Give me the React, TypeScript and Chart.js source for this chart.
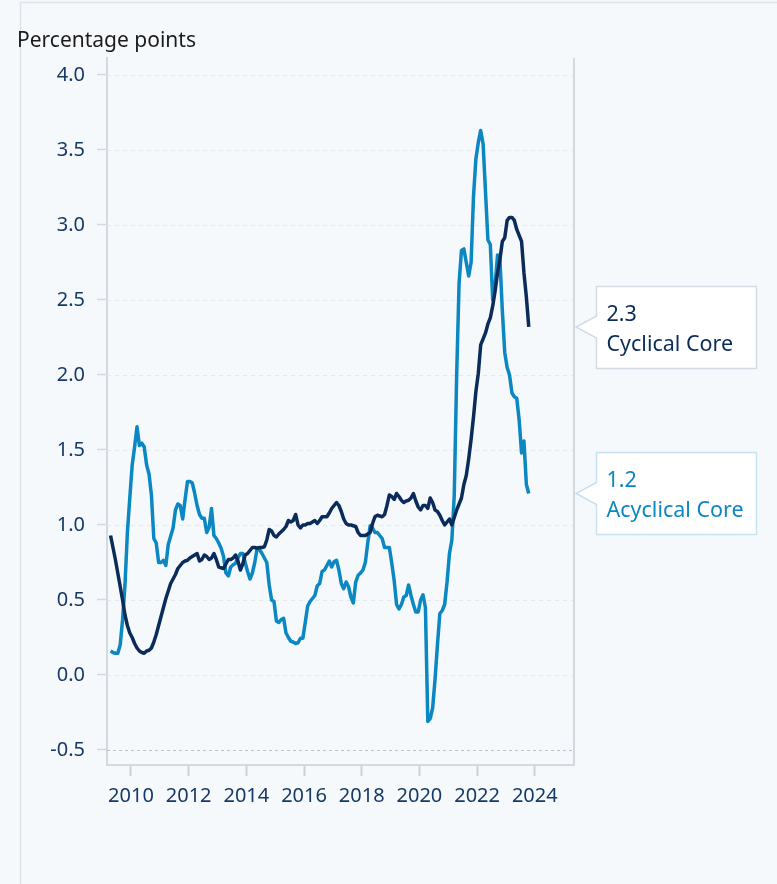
import React, { useEffect, useRef } from "react";
import { Chart, registerables } from "chart.js";

Chart.register(...registerables);

// Monthly series, April 2009 .. October 2023 (percentage points)
const START_YEAR = 2009;
const START_MONTH = 4;

const cyclicalCore: number[] = [
  0.93, 0.85, 0.77, 0.68, 0.59, 0.50, 0.40, 0.33, 0.28, 0.25,
  0.21, 0.18, 0.16, 0.15, 0.145, 0.16, 0.165, 0.18, 0.22, 0.27,
  0.33, 0.39, 0.45, 0.51, 0.56, 0.61, 0.64, 0.67, 0.71, 0.73,
  0.75, 0.76, 0.765, 0.78, 0.79, 0.80, 0.81, 0.76, 0.77, 0.80,
  0.79, 0.77, 0.78, 0.81, 0.77, 0.72, 0.715, 0.71, 0.74, 0.77,
  0.77, 0.78, 0.80, 0.76, 0.70, 0.74, 0.80, 0.81, 0.83, 0.85,
  0.85, 0.845, 0.85, 0.85, 0.855, 0.90, 0.97, 0.96, 0.93, 0.92,
  0.94, 0.955, 0.97, 0.99, 1.03, 1.02, 1.03, 1.07, 1.00, 0.98,
  1.00, 1.00, 1.01, 1.01, 1.02, 1.03, 1.01, 1.03, 1.055, 1.055,
  1.055, 1.08, 1.11, 1.13, 1.15, 1.13, 1.09, 1.04, 1.01, 1.00,
  1.00, 0.995, 0.99, 0.95, 0.93, 0.93, 0.93, 0.94, 0.95, 1.01,
  1.055, 1.065, 1.06, 1.055, 1.07, 1.13, 1.20, 1.19, 1.17, 1.21,
  1.19, 1.165, 1.15, 1.16, 1.165, 1.18, 1.21, 1.16, 1.12, 1.10,
  1.13, 1.13, 1.11, 1.18, 1.15, 1.10, 1.09, 1.065, 1.03, 1.00,
  1.02, 1.04, 1.00, 1.05, 1.10, 1.14, 1.18, 1.27, 1.33, 1.44,
  1.57, 1.72, 1.89, 2.01, 2.20, 2.24, 2.28, 2.34, 2.38, 2.46,
  2.56, 2.68, 2.77, 2.89, 2.915, 3.03, 3.05, 3.05, 3.03, 2.97,
  2.93, 2.89, 2.68, 2.52, 2.32,
];

const acyclicalCore: number[] = [
  0.16, 0.15, 0.145, 0.145, 0.20, 0.37, 0.60, 0.95, 1.18, 1.40,
  1.52, 1.655, 1.53, 1.545, 1.52, 1.40, 1.34, 1.20, 0.91, 0.88,
  0.75, 0.75, 0.765, 0.73, 0.87, 0.925, 0.98, 1.10, 1.14, 1.13,
  1.04, 1.17, 1.29, 1.29, 1.28, 1.21, 1.13, 1.07, 1.045, 1.045,
  0.95, 0.985, 1.11, 0.93, 0.91, 0.88, 0.845, 0.79, 0.68, 0.66,
  0.72, 0.735, 0.745, 0.78, 0.81, 0.81, 0.75, 0.69, 0.64, 0.68,
  0.75, 0.845, 0.835, 0.81, 0.78, 0.75, 0.60, 0.50, 0.49, 0.36,
  0.35, 0.37, 0.378, 0.28, 0.25, 0.225, 0.22, 0.21, 0.215, 0.245,
  0.245, 0.35, 0.46, 0.49, 0.51, 0.53, 0.595, 0.61, 0.69, 0.70,
  0.73, 0.76, 0.72, 0.755, 0.765, 0.70, 0.61, 0.575, 0.62, 0.59,
  0.52, 0.48, 0.62, 0.665, 0.68, 0.70, 0.75, 0.88, 0.995, 0.98,
  0.95, 0.95, 0.93, 0.91, 0.85, 0.85, 0.85, 0.745, 0.63, 0.47,
  0.44, 0.47, 0.52, 0.53, 0.60, 0.53, 0.47, 0.42, 0.42, 0.50,
  0.535, 0.45, -0.31, -0.29, -0.22, -0.03, 0.20, 0.41, 0.43, 0.47,
  0.62, 0.81, 0.90, 1.20, 2.00, 2.61, 2.83, 2.84, 2.75, 2.66,
  2.75, 3.19, 3.44, 3.55, 3.63, 3.54, 3.22, 2.90, 2.87, 2.50,
  2.60, 2.80, 2.77, 2.43, 2.15, 2.05, 2.00, 1.88, 1.855, 1.845,
  1.70, 1.48, 1.56, 1.27, 1.21,
];

const xTickYears: number[] = [2010, 2012, 2014, 2016, 2018, 2020, 2022, 2024];
const yTickValues: number[] = [-0.5, 0, 0.5, 1.0, 1.5, 2.0, 2.5, 3.0, 3.5, 4.0];

const seriesNames = ["Cyclical Core", "Acyclical Core"];
const seriesColors = ["#0b2c5a", "#0b87c2"];

// month mid-points as decimal years
const monthPositions: number[] = cyclicalCore.map(
  (_, i) => START_YEAR + (START_MONTH - 1 + i + 0.5) / 12
);

const X_MIN = 2009.168;
const X_MAX = 2025.36;
const Y_MIN = -0.6;
const Y_MAX = 4.113;

const W = 777;
const H = 884;
const FONT = '"Noto Sans", sans-serif';
const TICK_COLOR = "#163a66";

const bgPlugin = {
  id: "bgPlugin",
  beforeDraw(chart: any) {
    const ctx = chart.ctx;
    ctx.save();
    ctx.fillStyle = "#f6f9fc";
    ctx.fillRect(0, 0, W, H);
    ctx.strokeStyle = "#dde3ea";
    ctx.lineWidth = 1.5;
    ctx.beginPath();
    ctx.moveTo(20.5, H);
    ctx.lineTo(20.5, 2.5);
    ctx.lineTo(W, 2.5);
    ctx.stroke();
    ctx.fillStyle = "#1c1c1c";
    ctx.font = `21px ${FONT}`;
    ctx.textBaseline = "alphabetic";
    ctx.textAlign = "left";
    ctx.fillText("Percentage points", 17, 47);
    ctx.restore();
  },
};

const gridPlugin = {
  id: "gridPlugin",
  beforeDatasetsDraw(chart: any) {
    const ctx = chart.ctx;
    const ca = chart.chartArea;
    const y = chart.scales.y;
    ctx.save();
    ctx.lineWidth = 1;
    yTickValues.forEach((v) => {
      const py = Math.round(y.getPixelForValue(v)) + 0.5;
      if (v === -0.5) {
        ctx.setLineDash([3, 3]);
        ctx.strokeStyle = "#b9c1cb";
      } else {
        ctx.setLineDash([4, 4]);
        ctx.strokeStyle = "#e3e8ee";
      }
      ctx.beginPath();
      ctx.moveTo(ca.left, py);
      ctx.lineTo(ca.right, py);
      ctx.stroke();
    });
    ctx.setLineDash([]);
    ctx.strokeStyle = "#d3d9e0";
    ctx.lineWidth = 2;
    ctx.beginPath();
    ctx.moveTo(ca.right, ca.top);
    ctx.lineTo(ca.right, ca.bottom);
    ctx.stroke();
    ctx.restore();
  },
};

const calloutPlugin = {
  id: "calloutPlugin",
  afterDraw(chart: any) {
    const ctx = chart.ctx;
    const ca = chart.chartArea;
    const y = chart.scales.y;
    const borders = ["#d3dbe4", "#c6e1ef"];
    chart.data.datasets.forEach((ds: any, idx: number) => {
      const last = ds.data[ds.data.length - 1].y;
      const tipY = y.getPixelForValue(last);
      const tipX = ca.right + 2;
      const boxL = ca.right + 22.5;
      const boxW = 160;
      const boxH = 82;
      const boxT = Math.round(tipY - 41) + 0.5;
      ctx.save();
      ctx.fillStyle = "#ffffff";
      ctx.strokeStyle = borders[idx];
      ctx.lineWidth = 1.5;
      ctx.beginPath();
      ctx.moveTo(boxL, boxT);
      ctx.lineTo(boxL + boxW, boxT);
      ctx.lineTo(boxL + boxW, boxT + boxH);
      ctx.lineTo(boxL, boxT + boxH);
      ctx.lineTo(boxL, tipY + 11);
      ctx.lineTo(tipX, tipY);
      ctx.lineTo(boxL, tipY - 11);
      ctx.closePath();
      ctx.fill();
      ctx.stroke();
      ctx.fillStyle = ds.borderColor;
      ctx.font = `21.5px ${FONT}`;
      ctx.textAlign = "left";
      ctx.textBaseline = "alphabetic";
      ctx.fillText(last.toFixed(1), boxL + 10, boxT + 34);
      ctx.fillText(ds.label, boxL + 10, boxT + 64);
      ctx.restore();
    });
  },
};

export default function App() {
  const canvasRef = useRef<HTMLCanvasElement | null>(null);

  useEffect(() => {
    if (!canvasRef.current) return;
    const seriesValues = [cyclicalCore, acyclicalCore];
    const datasets = seriesValues.map((vals, s) => ({
      label: seriesNames[s],
      data: vals.map((v, i) => ({ x: monthPositions[i], y: v })),
      borderColor: seriesColors[s],
      backgroundColor: seriesColors[s],
      borderWidth: 3.5,
      pointRadius: 0,
      tension: 0,
      borderJoinStyle: "round" as const,
      order: s === 0 ? 0 : 1,
    }));

    const chart = new Chart(canvasRef.current, {
      type: "line",
      data: { datasets },
      options: {
        responsive: false,
        animation: false,
        devicePixelRatio: 1,
        layout: { padding: { left: 0, right: 203, top: 58, bottom: 79 } },
        plugins: {
          legend: { display: false },
          tooltip: { enabled: false },
        },
        scales: {
          x: {
            type: "linear",
            min: X_MIN,
            max: X_MAX,
            afterBuildTicks: (s: any) => {
              s.ticks = xTickYears.map((v) => ({ value: v }));
            },
            afterFit: (s: any) => {
              s.height = 40;
            },
            ticks: {
              callback: (v: any) => String(v),
              color: TICK_COLOR,
              font: { family: FONT, size: 20 },
              padding: 8,
              maxRotation: 0,
              autoSkip: false,
            },
            grid: {
              display: true,
              drawOnChartArea: false,
              drawTicks: true,
              tickLength: 11,
              tickColor: "#c9d1db",
              tickWidth: 2,
            },
            border: { display: true, color: "#d3d9e0", width: 2 },
          },
          y: {
            type: "linear",
            min: Y_MIN,
            max: Y_MAX,
            afterBuildTicks: (s: any) => {
              s.ticks = yTickValues.map((v) => ({ value: v }));
            },
            afterFit: (s: any) => {
              s.width = 107;
            },
            ticks: {
              callback: (v: any) => Number(v).toFixed(1),
              color: TICK_COLOR,
              font: { family: FONT, size: 20 },
              padding: 12,
              autoSkip: false,
            },
            grid: {
              display: true,
              drawOnChartArea: false,
              drawTicks: true,
              tickLength: 10,
              tickColor: "#d3d9e0",
              tickWidth: 1.5,
            },
            border: { display: true, color: "#d3d9e0", width: 2 },
          },
        },
      },
      plugins: [bgPlugin, gridPlugin, calloutPlugin],
    });
    return () => chart.destroy();
  }, []);

  return (
    <div
      style={{
        position: "absolute",
        left: 0,
        top: 0,
        width: W,
        height: H,
        background: "#f6f9fc",
      }}
    >
      <canvas
        ref={canvasRef}
        width={W}
        height={H}
        style={{ width: W, height: H, display: "block" }}
      />
    </div>
  );
}
